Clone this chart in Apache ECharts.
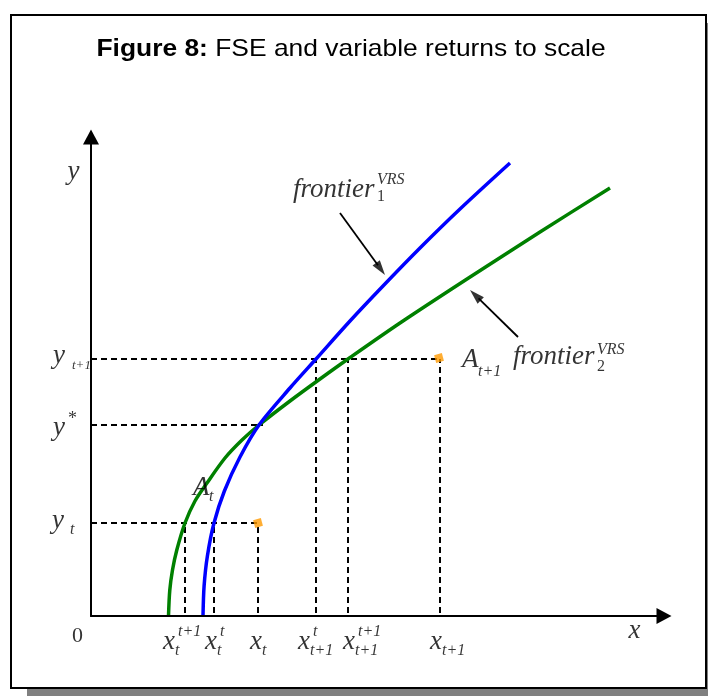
<!DOCTYPE html>
<html>
<head>
<meta charset="utf-8">
<script src="https://cdn.jsdelivr.net/npm/echarts@6/dist/echarts.min.js"></script>
<style>
html,body{margin:0;padding:0;background:#fff;}
#c{width:708px;height:696px;}
</style>
</head>
<body>
<div id="c"></div>
<script>
// ---------------- data ----------------
const frontier1 = [[11.2,0],[11.31,3.0],[11.64,6.0],[12.3,9.3],[13.34,12.5],[14.9,15.9],[16.8,19.1],[19.9,22.8],
  [22.5,25.7],[25.9,29.5],[29.2,33.0],[32.9,36.8],[36.9,40.7],[41.9,45.3]];
const frontier2 = [[7.75,0],[7.88,2.6],[8.15,4.6],[8.58,6.6],[9.4,9.3],[10.4,11.5],[11.6,13.3],[13.4,15.8],
  [15.1,17.6],[16.8,19.1],[19.9,21.5],[22.9,23.7],[25.7,25.7],[30.9,29.3],[37.6,33.7],[44.9,38.4],[51.9,42.8]];
const pointAt  = [16.7, 9.3];
const pointAt1 = [34.8, 25.8];
const xTickValues = [9.4, 12.3, 16.7, 22.5, 25.7, 34.9];
const xTickSup = ['t+1', 't', '', 't', 't+1', ''];
const xTickSub = ['t', 't', 't', 't+1', 't+1', 't+1'];
const xTickTop = [9.3, 9.3, 9.3, 25.7, 25.7, 25.7];
const yTickValues = [9.3, 19.1, 25.7];
const yTickSup = ['', '*', ''];
const yTickSub = ['t', '', 't+1'];
const yGuideEnd = [16.7, 17.2, 34.9];
const arrows = [[[24.9,40.3],[29.4,34.1]], [[42.7,27.9],[37.9,32.6]]];
const X_MAX = 57.3, Y_MAX = 47.9;

// ---------------- layout / style ----------------
const SERIF = "'Liberation Serif','Times New Roman',serif";
const BASE = 27, SCRIPT = 16;
const xLabelDx = [-22, -9, -8, -18, -5, -10];
const yLabel = [
  {base:[-39,-2], script:[-21,7], size:16},
  {base:[-38,3],  script:[-23,-6], size:18},
  {base:[-38,-3], script:[-19,7], size:13}
];

const labelItems = [];
function addText(pos, text, o) {
  labelItems.push({
    value: pos,
    label: {
      show: true, position: 'inside', formatter: text,
      fontFamily: SERIF, fontStyle: o.upright ? 'normal' : 'italic',
      fontSize: o.size, color: '#000',
      align: o.align || 'left', verticalAlign: 'middle',
      offset: [o.dx || 0, o.dy || 0]
    }
  });
}
xTickValues.forEach((v, i) => {
  addText([v, 0], 'x', {size: BASE, dx: xLabelDx[i], dy: 26});
  if (xTickSup[i]) addText([v, 0], xTickSup[i], {size: SCRIPT, dx: xLabelDx[i] + 15, dy: 16});
  if (xTickSub[i]) addText([v, 0], xTickSub[i], {size: SCRIPT, dx: xLabelDx[i] + 12, dy: 35});
});
yTickValues.forEach((v, i) => {
  addText([0, v], 'y', {size: BASE, dx: yLabel[i].base[0], dy: yLabel[i].base[1]});
  if (yTickSub[i]) addText([0, v], yTickSub[i], {size: yLabel[i].size, dx: yLabel[i].script[0], dy: yLabel[i].script[1]});
  if (yTickSup[i]) addText([0, v], yTickSup[i], {size: yLabel[i].size, upright: true, dx: yLabel[i].script[0], dy: yLabel[i].script[1]});
});
addText([0, 0], '0', {size: 22, upright: true, align: 'center', dx: -13.5, dy: 20});
addText([X_MAX, 0], 'x', {size: BASE, align: 'center', dx: -29.5, dy: 15});
addText([0, Y_MAX], 'y', {size: BASE, align: 'center', dx: -17.5, dy: 34.5});
// curve / point annotations
const f1Pos = [20.2, 42.6], f2Pos = [42.2, 25.9], a1Pos = [37.1, 25.6], a0Pos = [10.2, 12.8];
addText(f1Pos, 'frontier', {size: BASE});
addText(f1Pos, 'VRS', {size: SCRIPT, dx: 84, dy: -10});
addText(f1Pos, '1', {size: SCRIPT, upright: true, dx: 84, dy: 7});
addText(f2Pos, 'frontier', {size: BASE});
addText(f2Pos, 'VRS', {size: SCRIPT, dx: 84, dy: -7});
addText(f2Pos, '2', {size: SCRIPT, upright: true, dx: 84, dy: 10});
addText(a1Pos, 'A', {size: BASE});
addText(a1Pos, 't+1', {size: SCRIPT, dx: 16, dy: 12});
addText(a0Pos, 'A', {size: BASE});
addText(a0Pos, 't', {size: SCRIPT, dx: 16, dy: 9});

// ---------------- series ----------------
const dash = {color: '#000', width: 2, type: [6, 4]};
const series = [];
yTickValues.forEach((v, i) => {
  series.push({type: 'line', data: [[0, v], [yGuideEnd[i], v]], showSymbol: false, lineStyle: dash, silent: true, z: 2});
});
xTickValues.forEach((v, i) => {
  series.push({type: 'line', data: [[v, 0.3], [v, xTickTop[i]]], showSymbol: false, lineStyle: dash, silent: true, z: 2});
});
series.push({type: 'line', name: 'frontier2', data: frontier2, smooth: 0.3, showSymbol: false,
  lineStyle: {color: '#008000', width: 3.5}, z: 3});
series.push({type: 'line', name: 'frontier1', data: frontier1, smooth: 0.3, showSymbol: false,
  lineStyle: {color: '#0000FF', width: 3.5}, z: 4});
series.push({type: 'scatter', data: [pointAt, pointAt1], symbol: 'rect', symbolSize: 8, symbolRotate: 15,
  itemStyle: {color: '#FF9A00'}, z: 5});
// annotation arrows
const HEAD = 1.5;
arrows.forEach(a => {
  const [p0, p1] = a;
  const dx = p1[0] - p0[0], dy = p1[1] - p0[1];
  const len = Math.hypot(dx, dy), ux = dx / len, uy = dy / len;
  const base = [p1[0] - ux * HEAD * 0.8, p1[1] - uy * HEAD * 0.8];
  const mid = [p1[0] - ux * HEAD / 2, p1[1] - uy * HEAD / 2];
  series.push({type: 'line', data: [p0, base], showSymbol: false,
    lineStyle: {color: '#000', width: 1.8}, silent: true, z: 5});
  series.push({type: 'scatter', data: [mid], symbol: 'triangle', symbolSize: [9, 15],
    symbolRotate: Math.atan2(-dx, dy) * 180 / Math.PI, itemStyle: {color: '#000'}, silent: true, z: 5});
});
series.push({type: 'scatter', data: labelItems, symbolSize: 1, itemStyle: {color: 'rgba(0,0,0,0)'},
  silent: true, z: 6});

const axisCommon = {
  type: 'value', min: 0, z: 10,
  axisTick: {show: false}, axisLabel: {show: false}, splitLine: {show: false},
  axisLine: {show: true, onZero: false, symbol: ['none', 'triangle'], symbolSize: [16, 15],
    lineStyle: {color: '#000', width: 2}}
};

const chart = echarts.init(document.getElementById('c'), null, {renderer: 'canvas'});
chart.setOption({
  animation: false,
  backgroundColor: '#fff',
  graphic: [
    {type: 'rect', shape: {x: 27, y: 23, width: 681, height: 673}, style: {fill: '#808080'}, z: 0},
    {type: 'rect', shape: {x: 11, y: 15, width: 695, height: 673}, style: {fill: '#fff', stroke: '#000', lineWidth: 2}, z: 0},
    {type: 'text', x: 351, y: 49, scaleX: 1.1, z: 10,
      style: {text: '{b|Figure 8:} FSE and variable returns to scale', fontSize: 24,
        fontFamily: "'Liberation Sans',Arial,sans-serif", fill: '#000', align: 'center', verticalAlign: 'middle',
        rich: {b: {fontWeight: 'bold', fontSize: 24, fontFamily: "'Liberation Sans',Arial,sans-serif"}}}}
  ],
  grid: {left: 91, right: 44, top: 137, bottom: 80, containLabel: false},
  xAxis: Object.assign({}, axisCommon, {max: X_MAX}),
  yAxis: Object.assign({}, axisCommon, {max: Y_MAX}),
  series: series
});
</script>
</body>
</html>
